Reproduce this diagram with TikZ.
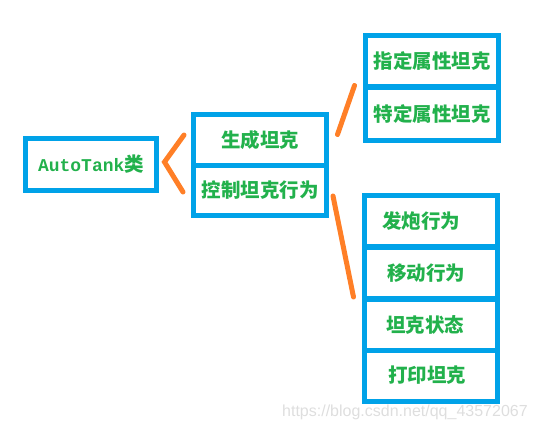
\documentclass[tikz,border=0pt]{standalone}
\usepackage{fontspec}
\newfontfamily\cjk{Noto Sans CJK SC}
\newfontfamily\monof{Liberation Mono}
\newfontfamily\wmf{Liberation Sans}
\definecolor{pblue}{HTML}{00A2E8}
\definecolor{pgreen}{HTML}{22B14C}
\definecolor{porange}{HTML}{FF7F27}
\tikzset{
  cell/.style={draw=pblue, line width=5pt, rectangle, inner sep=0pt,
    minimum width=133pt, text=pgreen, font=\cjk\bfseries\fontsize{19.5}{19.5}\selectfont},
  link/.style={draw=porange, line width=5pt, line cap=round, line join=miter},
}
\begin{document}
\begin{tikzpicture}[x=1pt,y=-1pt]
\useasboundingbox (0,0) rectangle (535,431);
% left box
\node[cell, minimum width=131pt, minimum height=52pt] (auto) at (91,164.5)
  {\monof\bfseries\fontsize{18}{18}\selectfont AutoTank\cjk\bfseries\fontsize{19.5}{19.5}\selectfont 类};
% middle box
\node[cell, minimum height=51pt] (gen) at (260,140) {生成坦克};
\node[cell, minimum height=50pt] (ctrl) at (260,190.5) {控制坦克行为};
% top right box
\node[cell, minimum height=51pt] (spec) at (432,61) {指定属性坦克};
\node[cell, minimum height=53.5pt] (part) at (432,114) {特定属性坦克};
% bottom right box
\node[cell, minimum height=51pt] (fire) at (431,221) {发炮行为\kern20pt};
\node[cell, minimum height=51.5pt] (move) at (431,273.2) {移动行为\kern10pt};
\node[cell, minimum height=51pt] (stat) at (431,324.5) {坦克状态\kern12pt};
\node[cell, minimum height=51pt] (prnt) at (431,375.5) {打印坦克\kern8pt};
% connectors
\coordinate (c1) at (184,135);
\coordinate (c2) at (164.5,162);
\coordinate (c3) at (183,192);
\draw[link] (c1) -- (c2) -- (c3);
\coordinate (t1) at (337.5,134.5);
\coordinate (t2) at (354.5,85.5);
\draw[link] (t1) -- (t2);
\coordinate (b1) at (333,196);
\coordinate (b2) at (353.5,297);
\draw[link] (b1) -- (b2);
% watermark
\node[text=black!13, font=\wmf\fontsize{16}{16}\selectfont, anchor=west, inner sep=0pt] (wm) at (282,412) {https://blog.csdn.net/qq\_43572067};
\end{tikzpicture}
\end{document}
